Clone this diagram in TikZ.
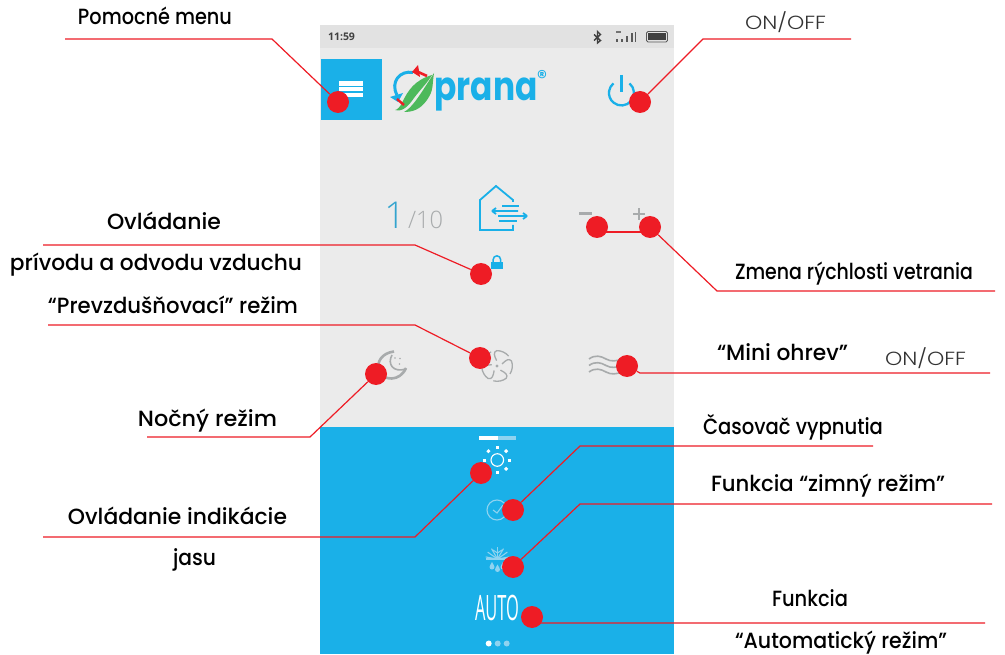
\documentclass[tikz,border=0pt]{standalone}
\usepackage{graphicx}
\usepackage{fontspec}
\usetikzlibrary{calc}
\setmainfont{Poppins Medium}
\newfontfamily\logof{Poppins Bold}
\newfontfamily\thinf{Poppins Light}
\newfontfamily\lightf{Open Sans Light}
\newfontfamily\uif{Open Sans}
\newcommand{\tw}[2]{\resizebox{#1pt}{\height}{#2}}
\definecolor{mred}{HTML}{EE1C25}
\definecolor{mblue}{HTML}{1AB0E8}
\definecolor{mbg}{HTML}{EBEBEB}
\definecolor{mbar}{HTML}{E2E2E2}
\definecolor{mgray}{HTML}{A8ABAC}
\definecolor{mgreen}{HTML}{4DB95B}
\definecolor{mpale}{HTML}{8FD3F0}
\tikzset{
 lab/.style={font=\fontsize{22}{24}\selectfont,text=black,inner sep=0pt,anchor=base},
 onoff/.style={font=\thinf\fontsize{19}{22}\selectfont,text=black!80,inner sep=0pt,anchor=base},
 dot/.style={circle,fill=mred,draw=none,minimum size=22pt,inner sep=0pt},
 wire/.style={draw=mred,line width=1.2pt},
 ico/.style={draw=mgray,line width=1.6pt},
 bico/.style={draw=mblue,line width=1.8pt},
 pico/.style={draw=mpale,line width=1.1pt},
}
\begin{document}
\begin{tikzpicture}[x=1pt,y=-1pt]
\useasboundingbox (0,0) rectangle (1005,655);
\fill[white] (0,0) rectangle (1005,655);
% phone
\fill[mbar] (320,25) rectangle (674,48);
\fill[mbg] (320,48) rectangle (674,427);
\fill[mblue] (320,427) rectangle (674,654);
% status bar
\node[inner sep=0pt,font=\uif\bfseries\fontsize{10.5}{12}\selectfont,text=black!75] (clock) at (341.5,37) {11:59};
\draw[black!75,line width=1.4pt] (594,34.5)--(600.5,40.5)--(597.5,43)--(597.5,31.5)--(600.5,34.5)--(594,40.5);
\foreach \x/\h in {616/3,621/3,626/6,631/8.5,634.5/10}{\fill[black!65] (\x,41.7) rectangle (\x+1.8,41.7-\h);}
\fill[black!55] (616,31.5) rectangle (621,33.5);
\draw[black!65,line width=.9pt,rounded corners=1.5pt] (646.5,31.5) rectangle (667.5,42);
\fill[black!75] (648,33) rectangle (666,40.5);
% menu button
\fill[mblue] (321,59) rectangle (382,120);
\fill[white] (339,81) rectangle (363,86);
\fill[white] (339,87) rectangle (363,91.3);
\fill[white] (339,92.7) rectangle (363,96.7);
% logo
\fill[mgreen] (432,75) .. controls (415,80) and (408,90) .. (402,103) .. controls (400,107) and (397,110) .. (395,110) .. controls (402,112) and (408,107) .. (414,98) .. controls (420,90) and (428,82) .. (432,75) -- cycle;
\fill[mgreen] (434,73) .. controls (432,85) and (434,90) .. (427,100) .. controls (420,110) and (412,112) .. (404,112) .. controls (412,108) and (420,95) .. (434,73) -- cycle;
\draw[mblue,line width=3pt] (413,72.5) .. controls (400,70) and (390,82) .. (397,95);
\fill[mblue] (390,97) -- (403,93) -- (398,102) -- cycle;
\draw[mred,line width=2.6pt] (427,76) -- (416,71);
\fill[mred] (412,72) -- (418,65) -- (420,77) -- cycle;
\draw[mred,line width=2.4pt] (397,99) -- (404,105);
\node[inner sep=0pt,anchor=base,text=mblue,font=\logof\fontsize{40}{40}\selectfont] (logo) at (486,101) {\tw{103}{prana}};
\node[inner sep=0pt,text=mblue,font=\fontsize{20}{20}\selectfont] (reg) at (542,77) {®};
% power
\draw[bico,line width=2.3pt] (629.5,83.4) arc[start angle=-50,end angle=230,radius=12.5];
\draw[bico,line width=2.3pt] (621.5,75) -- (621.5,92);
% fan speed
\node[inner sep=0pt,anchor=base,text=mblue!75!gray,font=\lightf\fontsize{37}{37}\selectfont] (one) at (395,229) {1};
\node[inner sep=0pt,anchor=base,text=mgray,font=\lightf\fontsize{24}{24}\selectfont] (ten) at (425.5,229) {\tw{35}{/10}};
\draw[bico] (513,202) -- (513,200) -- (496,186) -- (480,200) -- (480,230) -- (513,230) -- (513,225);
\draw[bico] (502,205.7) -- (519,205.7);
\draw[bico] (492,211) -- (518,211) (492,211) -- (496,208) (492,211) -- (496,214);
\draw[bico] (498,216) -- (527,216) (527,216) -- (523,213) (527,216) -- (523,219);
\draw[bico] (499,220.7) -- (517,220.7);
% minus / plus
\fill[mgray] (579,212) rectangle (592,215);
\fill[mgray] (633,212.7) rectangle (645,215.3);
\fill[mgray] (637.7,208) rectangle (640.3,220);
% lock
\fill[mblue] (490.7,262) rectangle (503.3,269.5);
\draw[mblue,line width=1.5pt] (493.2,262) -- (493.2,259.5) arc[start angle=180,end angle=360,radius=3.7] -- (500.6,262);
% moon
\draw[ico,line width=2.6pt] (394,351.5) .. controls (382,353) and (376,362) .. (379,371) .. controls (383,381) and (400,382) .. (406,368);
\draw[ico] (392,355) .. controls (387,364) and (393,373) .. (406,369);
\fill[mgray] (395,358) circle (.9) (400,358.5) circle (.9) (399.5,364) circle (.9);
% fan
\fill[mgray] (497,366) circle (1.7);
\foreach \a in {0,72,144,216,288}{
 \begin{scope}[shift={(497,366)},rotate=\a]
  \draw[ico,line width=1.3pt] (5,-2) .. controls (9,-6) and (12,-8) .. (14.5,-5) .. controls (16,-1) and (15.5,4) .. (13,8);
 \end{scope}}
% waves
\foreach \y in {359,365.5,372}{
 \draw[ico] (589,\y) .. controls (595,\y-4.5) and (601,\y-3) .. (606,\y) .. controls (611,\y+3) and (617,\y+2) .. (622,\y);}
% slider
\fill[white] (479,436) rectangle (498,440);
\fill[mpale] (498,436) rectangle (516,440);
% sun
\draw[white,line width=1.1pt] (497.3,460) circle (6.3);
\foreach \a in {0,45,...,315}{\draw[white,line width=3pt] ($(497.3,460)+(\a:11)$) -- ($(497.3,460)+(\a:14)$);}
% clock-check
\draw[pico] (497,510) circle (10);
\draw[pico] (493,510) -- (497,513) -- (503,505);
% snow + drops
\draw[pico,line width=1.3pt] (486,559) -- (510,559);
\foreach \a in {-170,-145,-120,-90,-60,-35,-10}{\draw[pico] (497.5,559) -- ++(\a:12);}
\draw[pico] (493,550) -- (497.5,553) -- (502,550);
\foreach \x/\y in {492/562,497.5/564.5,503/562}{
 \fill[mpale] (\x,\y) .. controls (\x-1,\y+2) and (\x-2.5,\y+4) .. (\x-2.5,\y+5) arc[start angle=180,end angle=0,radius=2.5] .. controls (\x+2.5,\y+4) and (\x+1,\y+2) .. (\x,\y) -- cycle;}
% auto
\node[inner sep=0pt,anchor=base,text=white,font=\uif\fontsize{35}{35}\selectfont] (auto) at (497,620) {\tw{44}{AUTO}};
% pager
\fill[white] (488.7,643.5) circle (3);
\fill[mpale] (497.7,643.5) circle (3) (506.7,643.5) circle (3);

% dots
\node[dot] (d1) at (338,102) {};
\node[dot] (d2) at (640,102) {};
\node[dot] (d3) at (481,274) {};
\node[dot] (d4) at (597,227) {};
\node[dot] (d5) at (650,227) {};
\node[dot] (d6) at (480,358) {};
\node[dot] (d7) at (627,366) {};
\node[dot] (d8) at (376,374) {};
\node[dot] (d9) at (481,473) {};
\node[dot] (d10) at (513,510) {};
\node[dot] (d11) at (513,567) {};
\node[dot] (d12) at (532,617) {};
% free ends
\coordinate (e1) at (65,39);
\coordinate (e2) at (851,39);
\coordinate (e3) at (43,245);
\coordinate (e5) at (995,291);
\coordinate (e6) at (48,325);
\coordinate (e7) at (990,373);
\coordinate (e8) at (147,437);
\coordinate (e9) at (43,537);
\coordinate (e10) at (873,446);
\coordinate (e11) at (992,504);
\coordinate (e12) at (985,623);
% connectors
\draw[wire] (e1) -- (272,39) -- (d1);
\draw[wire] (e2) -- (703,39) -- (d2);
\draw[wire] (e3) -- (415,245) -- (d3);
\draw[wire] (e5) -- (717,291) -- (d5);
\draw[wire] ($(d4)+(0,5)$) -- ($(d5)+(0,5)$);
\draw[wire] (e6) -- (415,325) -- (d6);
\draw[wire] (e7) -- (640,373) -- (d7);
\draw[wire] (e8) -- (310,437) -- (d8);
\draw[wire] (e9) -- (415,537) -- (d9);
\draw[wire] (e10) -- (580,446) -- (d10);
\draw[wire] (e11) -- (580,504) -- (d11);
\draw[wire] (e12) -- (540,623) -- (d12);
% labels
\node[lab] (l1) at (155,25) {\tw{154}{Pomocné menu}};
\node[onoff] (l2) at (785.5,30) {\tw{81}{ON/OFF}};
\node[lab] (l3) at (164,230) {\tw{114}{Ovládanie}};
\node[lab] (l3b) at (156,271) {\tw{292}{prívodu a odvodu vzduchu}};
\node[lab] (l4) at (173,314) {\tw{250}{“Prevzdušňovací” režim}};
\node[lab] (l5) at (854,280) {\tw{238}{Zmena rýchlosti vetrania}};
\node[lab] (l6) at (782.5,360) {\tw{131}{“Mini ohrev”}};
\node[onoff] (l7) at (925.5,366) {\tw{81}{ON/OFF}};
\node[lab] (l8) at (207.5,426) {\tw{139}{Nočný režim}};
\node[lab] (l9) at (793,434) {\tw{180}{Časovač vypnutia}};
\node[lab] (l10) at (828,491) {\tw{234}{Funkcia “zimný režim”}};
\node[lab] (l11) at (177.5,524) {\tw{219}{Ovládanie indikácie}};
\node[lab] (l11b) at (194.5,565) {\tw{43}{jasu}};
\node[lab] (l12) at (810,606) {\tw{76}{Funkcia}};
\node[lab] (l12b) at (841,648) {\tw{212}{“Automatický režim”}};
\end{tikzpicture}
\end{document}
